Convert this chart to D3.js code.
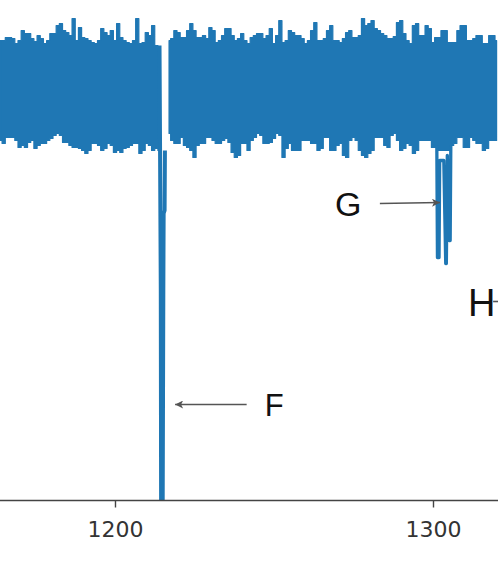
<!DOCTYPE html>
<html>
<head>
<meta charset="utf-8">
<script src="https://cdn.jsdelivr.net/npm/d3@7"></script>
<style>
  html, body { margin: 0; padding: 0; background: #fff; }
  svg { display: block; }
</style>
</head>
<body>
<svg id="chart" width="498" height="564"></svg>
<script>
// ---- DATA (relative flux deviation, arbitrary units; time in days) ----
const bandStart = 1164;   // first sample time of the envelope grid
const bandStep = 1;       // envelope grid spacing
// Upper envelope of the noisy light curve
const bandHigh = [5.0,5.0,5.3,5.3,5.2,4.7,5.0,6.0,5.7,5.7,5.2,4.9,5.5,5.2,4.7,5.0,5.7,5.7,6.5,6.7,
  6.0,5.8,5.5,7.2,5.0,6.3,5.3,5.2,5.0,4.8,4.7,5.0,6.2,5.8,5.5,6.0,5.0,6.7,5.3,5.0,
  4.8,4.7,5.0,7.2,4.7,4.8,5.8,5.5,6.5,4.5,4.2,null,null,5.0,5.2,6.0,5.8,5.3,5.3,6.0,
  6.7,6.0,5.3,5.3,5.5,5.2,6.3,6.0,4.8,5.0,5.5,6.2,6.2,5.5,5.0,5.2,5.7,5.0,4.7,5.3,
  5.5,5.7,5.7,5.2,5.5,6.2,4.7,5.5,7.0,4.8,5.0,6.0,5.8,5.5,5.5,5.2,4.7,5.0,6.0,6.8,
  5.0,5.0,5.2,6.0,6.5,5.0,5.0,4.8,5.2,5.8,6.0,5.3,5.3,5.5,7.2,6.5,6.7,7.0,6.2,6.0,
  5.7,5.5,5.2,5.2,5.4,6.8,7.0,5.7,5.0,4.7,6.5,6.7,5.5,5.5,6.5,6.2,4.8,5.3,5.3,6.0,
  6.0,4.8,4.8,4.8,6.0,6.5,6.5,5.0,5.0,5.2,5.5,5.5,4.7,4.7,5.5,5.5,5.0];
// Lower envelope of the noisy light curve
const bandLow = [-5.0,-5.3,-4.7,-4.7,-4.7,-5.0,-5.7,-5.5,-5.7,-5.2,-5.0,-5.8,-5.5,-5.3,-5.3,-5.0,-4.8,-4.5,-4.3,-4.5,
  -5.2,-5.2,-5.5,-5.7,-5.7,-5.8,-6.0,-6.3,-6.0,-5.3,-5.3,-5.5,-6.0,-5.8,-5.3,-5.5,-6.2,-6.0,-6.2,-5.8,
  -5.7,-5.5,-5.3,-5.3,-6.3,-6.0,-5.3,-5.5,-6.0,-5.8,-6.0,null,null,-4.3,-5.0,-5.3,-5.3,-4.7,-5.5,-5.7,
  -6.0,-6.7,-5.5,-5.3,-5.3,-4.7,-4.7,-5.0,-5.3,-5.3,-5.0,-4.8,-5.2,-6.2,-6.7,-6.5,-5.3,-5.3,-6.0,-5.0,
  -4.7,-4.3,-4.5,-5.3,-5.3,-5.2,-4.8,-4.3,-4.5,-6.7,-5.8,-5.3,-6.0,-6.0,-6.0,-5.0,-5.0,-5.0,-5.3,-5.3,
  -6.0,-5.8,-4.7,-4.7,-6.0,-6.0,-5.5,-5.3,-6.5,-6.7,-5.0,-4.7,-5.0,-6.0,-6.5,-6.7,-6.3,-6.0,-4.7,-4.7,
  -4.7,-5.5,-5.7,-4.5,-4.3,-5.0,-6.0,-5.8,-5.3,-5.5,-6.3,-6.0,-5.0,-5.0,-5.0,-5.0,-5.7,-5.7,-6.0,-6.0,
  -6.0,-6.0,-5.5,-5.3,-4.7,-4.7,-5.7,-5.7,-4.7,-5.0,-5.3,-5.3,-6.0,-5.8,-5.0,-5.0,-5.0];
// Transit F
const dipFTime = [1214.0, 1214.4, 1214.5, 1215.0, 1215.2, 1215.3, 1215.6, 1215.7];
const dipFFlux = [4.5, -20.0, -41.0, -41.0, -20.0, -12.3, -12.0, -6.0];
// Transit G (two close events)
const dipGTime = [1301.2, 1301.4, 1301.9, 1302.1, 1303.4, 1304.0, 1304.2, 1304.5, 1305.1, 1305.4, 1305.6];
const dipGFlux = [-5.5, -16.7, -16.7, -7.0, -7.0, -17.3, -17.3, -6.5, -15.0, -15.0, -5.5];
// Axis ticks
const xTicks = [1200, 1300];
const xTickLabels = ["1200", "1300"];
// Annotation labels
const annLabels = ["F", "G", "H"];
const annTextTime = [1247.1, 1269.2, 1311.0];
const annTextFlux = [-32.5, -12.5, -22.5];
const annArrowFrom = [[1241.4, -31.4], [1283.3, -11.3], [1318.9, -21.1]];
const annArrowTo = [[1218.9, -31.4], [1302.2, -11.2], [1323.0, -21.1]];
const annSize = [31, 34, 38];

// ---- SCALES ----
const W = 498, H = 564;
const x = d3.scaleLinear().domain([1163.84, 1320.44]).range([0, W]);
const y = d3.scaleLinear().domain([-41, 9]).range([500.5, 0.5]);

const svg = d3.select("#chart");
const blue = "#1f77b4";

svg.append("defs").append("clipPath").attr("id", "plotclip")
  .append("rect").attr("x", 0).attr("y", 0).attr("width", W).attr("height", y(-41));

const plot = svg.append("g").attr("clip-path", "url(#plotclip)");

const band = bandHigh.map((h, i) => ({ t: bandStart + i * bandStep, hi: h, lo: bandLow[i] }));

const area = d3.area()
  .defined(d => d.hi !== null && d.lo !== null)
  .x(d => x(d.t))
  .y0(d => y(d.lo))
  .y1(d => y(d.hi))
  .curve(d3.curveStep);

plot.append("path").datum(band)
  .attr("d", area)
  .attr("fill", blue)
  .attr("stroke", blue)
  .attr("stroke-width", 1.2)
  .attr("stroke-linejoin", "round");

const line = d3.line().x(d => x(d[0])).y(d => y(d[1]));

plot.append("path").datum(dipFTime.map((t, i) => [t, dipFFlux[i]]))
  .attr("d", line).attr("fill", "none").attr("stroke", blue)
  .attr("stroke-width", 4).attr("stroke-linejoin", "round");

plot.append("path").datum(dipGTime.map((t, i) => [t, dipGFlux[i]]))
  .attr("d", line).attr("fill", "none").attr("stroke", blue)
  .attr("stroke-width", 3.3).attr("stroke-linejoin", "round");

// ---- AXIS ----
const axis = d3.axisBottom(x)
  .tickValues(xTicks)
  .tickFormat((d, i) => xTickLabels[i])
  .tickSize(7)
  .tickPadding(14);

const ax = svg.append("g").attr("transform", `translate(0,${y(-41)})`).call(axis);
ax.select(".domain").attr("stroke", "#444").attr("stroke-width", 1.6).attr("d", `M0,0H${W}`);
ax.selectAll(".tick line").attr("stroke", "#444").attr("stroke-width", 1.4);
ax.selectAll(".tick text")
  .attr("fill", "#333")
  .style("font-family", "'DejaVu Sans', sans-serif")
  .style("font-size", "22px");

// ---- ANNOTATIONS ----
const defs = svg.select("defs");
defs.append("marker").attr("id", "ah")
  .attr("viewBox", "0 0 10 10").attr("refX", 10).attr("refY", 5)
  .attr("markerWidth", 11).attr("markerHeight", 8)
  .attr("markerUnits", "userSpaceOnUse")
  .attr("orient", "auto")
  .append("path").attr("d", "M0,0 L10,5 L0,10 L2.5,5 Z").attr("fill", "#555");

annLabels.forEach((lab, i) => {
  svg.append("line")
    .attr("x1", x(annArrowFrom[i][0])).attr("y1", y(annArrowFrom[i][1]))
    .attr("x2", x(annArrowTo[i][0])).attr("y2", y(annArrowTo[i][1]))
    .attr("stroke", "#555").attr("stroke-width", 1.6)
    .attr("marker-end", "url(#ah)");
  svg.append("text")
    .attr("x", x(annTextTime[i])).attr("y", y(annTextFlux[i]))
    .attr("fill", "#111")
    .style("font-family", "'Liberation Sans', Arial, sans-serif")
    .style("font-size", annSize[i] + "px")
    .text(lab);
});
</script>
</body>
</html>
